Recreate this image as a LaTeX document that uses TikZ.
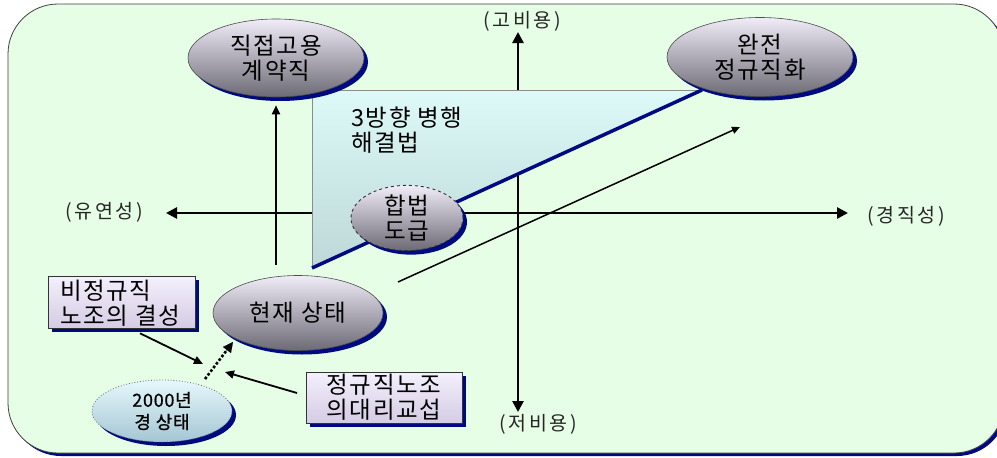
\documentclass[tikz,border=0pt]{standalone}
\usepackage{fontspec}
\setmainfont{Noto Sans CJK KR}
\newfontfamily\axfont[LetterSpace=14]{Noto Sans CJK KR}
\newfontfamily\txfont[LetterSpace=7]{Noto Sans CJK KR}
\newfontfamily\bxfont[LetterSpace=4,FakeBold=0.8]{Noto Sans CJK KR}
\usetikzlibrary{arrows.meta,shadows,calc,shapes.geometric}
\definecolor{bgg}{HTML}{E6FDE6}
\definecolor{navyc}{HTML}{000A80}
\definecolor{elltop}{HTML}{F0ECF8}
\definecolor{ellbot}{HTML}{6C6A74}
\definecolor{tritop}{HTML}{DDFAF8}
\definecolor{tribot}{HTML}{BDD8D6}
\definecolor{boxtop}{HTML}{F4F0FC}
\definecolor{boxbot}{HTML}{D4CCE4}
\definecolor{cytop}{HTML}{E6F8FC}
\definecolor{cybot}{HTML}{A4C6D4}
\tikzset{
  nshadow/.style={drop shadow={shadow xshift=4pt,shadow yshift=-4pt,fill=navyc,opacity=1}},
  bigtext/.style={font=\txfont\fontsize{23.5}{25}\selectfont},
  grayell/.style={ellipse,draw=black!70,line width=0.6pt,top color=elltop,bottom color=ellbot,nshadow,align=center,bigtext,inner sep=0pt},
  labbox/.style={rectangle,draw=black!80,line width=0.6pt,top color=boxtop,bottom color=boxbot,nshadow,inner sep=0pt,bigtext},
  axis/.style={line width=2.6pt,-{Triangle[length=11pt,width=11pt]}},
  axlab/.style={font=\axfont\fontsize{19.5}{20}\selectfont,text=black!85},
  marrow/.style={line width=1.8pt,-{Triangle[length=9pt,width=8pt]}},
  sarrow/.style={line width=1.5pt,-{Triangle[length=8pt,width=7pt]}}
}
\begin{document}
\begin{tikzpicture}[x=1pt,y=-1pt]
\useasboundingbox (0,0) rectangle (997,458);
% background panel (runs past the right edge, as in the reference)
\begin{scope}
\clip (0,0) rectangle (997,458);
\fill[navyc,rounded corners=50pt] (11,7) rectangle (1007,456);
\filldraw[fill=bgg,draw=black!75,line width=0.8pt,rounded corners=50pt] (8,4) rectangle (1004,453);
\end{scope}
% axes
\coordinate (hl) at (166,213);
\coordinate (hr) at (848,213);
\coordinate (vt) at (518,32);
\coordinate (vb) at (518,412);
\draw[axis] (hr -| vt) -- (hl);
\draw[axis] (hl -| vt) -- (hr);
\draw[axis] (hl -| vt) -- (vt);
\draw[axis] (hl -| vt) -- (vb);
\node[axlab] (lflex) at (104,212) {(유연성)};
\node[axlab] (lrig) at (906,216) {(경직성)};
\node[axlab] (lhigh) at (522,21) {(고비용)};
\node[axlab] (llow) at (538,424) {(저비용)};
% triangle
\coordinate (T1) at (312,90);
\coordinate (T2) at (702,90);
\coordinate (T3) at (312,268);
\shade[top color=tritop,bottom color=tribot] (T1) -- (T2) -- (T3) -- cycle;
\draw[black!45,line width=0.8pt] (T2) -- (T1) -- (T3);
\draw[navyc,line width=3.5pt] (T3) -- (T2);
\node[anchor=north west,align=left,bigtext,inner sep=0pt] (tri) at (351,107) {3방향 병행\\해결법};
% ellipses
\node[grayell,minimum width=176pt,minimum height=78pt] (ell1) at (276,58) {직접고용\\계약직};
\node[grayell,minimum width=186pt,minimum height=79pt] (ell2) at (760,57) {완전\\정규직화};
\node[grayell,dashed,draw=black!80,line width=0.9pt,minimum width=112pt,minimum height=60pt] (happ) at (407,218) {합법\\도급};
\node[grayell,minimum width=170pt,minimum height=75pt] (now) at (298,313) {현재 상태};
\node[ellipse,draw=black!60,dotted,line width=0.8pt,top color=cytop,bottom color=cybot,nshadow,align=center,inner sep=0pt,font=\bxfont\fontsize{18}{22}\selectfont,minimum width=140pt,minimum height=62pt] (y2000) at (162,411) {2000년\\경 상태};
% boxes
\node[labbox,minimum width=147pt,minimum height=52pt] (box1) at (121.5,302) {};
\node[anchor=west,align=left,bigtext,inner sep=0pt] (box1t) at (60,303) {비정규직\\노조의 결성};
\node[labbox,align=center,minimum width=156pt,minimum height=51pt] (box2) at (384,397.5) {정규직노조\\의대리교섭};
% connectors
\draw[marrow,shorten <=10pt,shorten >=8pt] (now.north -| ell1.south) -- (ell1.south);
\coordinate (d1) at (398,282);
\coordinate (d2) at (740,127);
\draw[sarrow] (d1) -- (d2);
\coordinate (m1) at (203,364);
\coordinate (m2) at (225,372);
\coordinate (b1s) at ($(box1.south)+(18.5,5)$);
\draw[marrow] (b1s) -- (m1);
\coordinate (b2w) at (297,393);
\draw[marrow] (b2w) -- (m2);
\coordinate (ds) at (205,379);
\coordinate (de) at (233,342);
\draw[line width=2.6pt,dotted,shorten >=6pt] (ds) -- (de);
\draw[-{Triangle[length=10pt,width=10pt]},line width=0.1pt] ($(ds)!0.7!(de)$) -- (de);
\end{tikzpicture}
\end{document}
